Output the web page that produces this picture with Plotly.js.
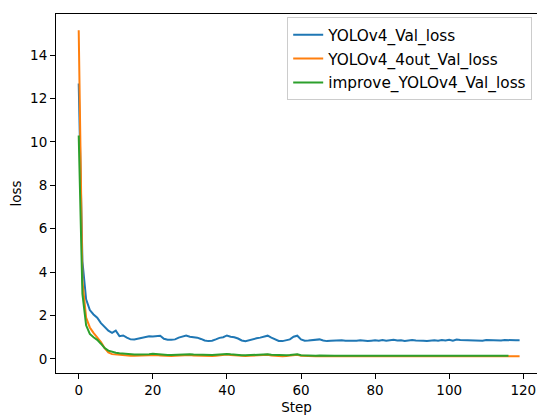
<!DOCTYPE html>
<html>
<head>
<meta charset="utf-8">
<script src="https://cdn.plot.ly/plotly-3.0.1.min.js"></script>
<style>html,body{margin:0;padding:0;background:#fff;}#chart{width:537px;height:415px;}</style>
</head>
<body>
<div id="chart"></div>
<script>
const seriesNames = ["YOLOv4_Val_loss", "YOLOv4_4out_Val_loss", "improve_YOLOv4_Val_loss"];

const yolov4Val = [
  12.7, 4.5, 2.75, 2.25, 2.05, 1.9, 1.65, 1.45, 1.3, 1.2,
  1.3, 1.05, 1.08, 0.98, 0.9, 0.89, 0.93, 0.99, 1.02, 1.04,
  1.03, 1.05, 1.07, 0.93, 0.88, 0.88, 0.9, 0.98, 1.04, 1.08,
  1.02, 1.0, 0.98, 0.92, 0.85, 0.82, 0.84, 0.9, 0.97, 1.0,
  1.08, 1.02, 1.0, 0.94, 0.85, 0.82, 0.87, 0.91, 0.95, 0.98,
  1.02, 1.07, 0.98, 0.9, 0.83, 0.82, 0.85, 0.9, 1.02, 1.07,
  0.9, 0.84, 0.85, 0.86, 0.88, 0.9, 0.85, 0.82, 0.84, 0.85,
  0.83, 0.86, 0.84, 0.83, 0.85, 0.84, 0.86, 0.83, 0.82, 0.84,
  0.86, 0.84, 0.87, 0.84, 0.85, 0.88, 0.85, 0.86, 0.83, 0.86,
  0.87, 0.85, 0.86, 0.84, 0.82, 0.85, 0.86, 0.84, 0.87, 0.85,
  0.88, 0.84, 0.89, 0.87, 0.86, 0.85, 0.87, 0.86, 0.85, 0.84,
  0.87, 0.86, 0.87, 0.86, 0.85, 0.87, 0.86, 0.84, 0.86, 0.86
];

const yolov4_4outVal = [
  15.15, 3.6, 1.9, 1.45, 1.2, 1.0, 0.78, 0.5, 0.3, 0.22,
  0.2, 0.18, 0.16, 0.15, 0.15, 0.14, 0.15, 0.16, 0.17, 0.18,
  0.2, 0.18, 0.16, 0.14, 0.13, 0.13, 0.14, 0.15, 0.17, 0.19,
  0.18, 0.16, 0.15, 0.14, 0.13, 0.12, 0.13, 0.15, 0.17, 0.18,
  0.2, 0.18, 0.16, 0.14, 0.13, 0.13, 0.14, 0.15, 0.16, 0.18,
  0.2, 0.19, 0.16, 0.14, 0.12, 0.12, 0.13, 0.14, 0.17, 0.19,
  0.14, 0.13, 0.13, 0.12, 0.12, 0.13, 0.12, 0.12, 0.12, 0.13,
  0.12, 0.12, 0.12, 0.12, 0.13, 0.12, 0.12, 0.12, 0.12, 0.12,
  0.13, 0.12, 0.12, 0.12, 0.12, 0.12, 0.12, 0.12, 0.12, 0.12,
  0.12, 0.12, 0.12, 0.12, 0.12, 0.12, 0.12, 0.12, 0.12, 0.12,
  0.12, 0.12, 0.12, 0.12, 0.12, 0.12, 0.12, 0.12, 0.12, 0.12,
  0.12, 0.12, 0.12, 0.12, 0.12, 0.12, 0.12, 0.12, 0.12, 0.12
];

const improveVal = [
  10.3, 3.0, 1.55, 1.15, 1.0, 0.88, 0.7, 0.5, 0.38, 0.32,
  0.28, 0.26, 0.24, 0.22, 0.21, 0.2, 0.2, 0.2, 0.21, 0.22,
  0.24, 0.22, 0.2, 0.19, 0.18, 0.18, 0.19, 0.2, 0.21, 0.22,
  0.21, 0.2, 0.19, 0.18, 0.17, 0.17, 0.18, 0.19, 0.21, 0.22,
  0.23, 0.21, 0.19, 0.18, 0.17, 0.17, 0.18, 0.19, 0.2, 0.22,
  0.23, 0.21, 0.19, 0.18, 0.17, 0.17, 0.17, 0.18, 0.2, 0.21,
  0.17, 0.16, 0.16, 0.15, 0.15, 0.16, 0.15, 0.15, 0.15, 0.15,
  0.15, 0.15, 0.15, 0.15, 0.15, 0.15, 0.15, 0.15, 0.15, 0.15,
  0.15, 0.15, 0.15, 0.15, 0.15, 0.15, 0.15, 0.15, 0.15, 0.15,
  0.15, 0.15, 0.15, 0.15, 0.15, 0.15, 0.15, 0.15, 0.15, 0.15,
  0.15, 0.15, 0.15, 0.15, 0.15, 0.15, 0.15, 0.15, 0.15, 0.15,
  0.15, 0.15, 0.15, 0.15, 0.15, 0.15, 0.15
];

const xTicks = [0, 20, 40, 60, 80, 100, 120];
const yTicks = [0, 2, 4, 6, 8, 10, 12, 14];

const steps = n => Array.from({length: n}, (_, i) => i);
const colors = ["#1f77b4", "#ff7f0e", "#2ca02c"];
const allSeries = [yolov4Val, yolov4_4outVal, improveVal];

const traces = allSeries.map((vals, k) => ({
  type: "scatter",
  mode: "lines",
  x: steps(vals.length),
  y: vals,
  name: seriesNames[k],
  legendgroup: "g" + k,
  line: {color: colors[k], width: 2},
  hoverinfo: "skip"
}));

const font = {family: "DejaVu Sans", size: 13.5, color: "#000"};
const legendFont = {family: "DejaVu Sans", size: 15.3, color: "#000"};

const layout = {
  width: 537,
  height: 415,
  margin: {l: 56, r: 0, t: 14, b: 42, pad: 0},
  paper_bgcolor: "#fff",
  plot_bgcolor: "#fff",
  font: font,
  showlegend: true,
  legend: {
    x: 0.99, xanchor: "right",
    y: 0.991, yanchor: "top",
    bgcolor: "rgba(255,255,255,0.8)",
    bordercolor: "#cccccc",
    borderwidth: 1,
    font: legendFont,
    tracegroupgap: 1
  },
  xaxis: {
    range: [-6.13, 123.7],
    tickvals: xTicks,
    ticktext: xTicks.map(String),
    showgrid: false,
    zeroline: false,
    showline: true,
    mirror: true,
    linecolor: "#000",
    linewidth: 1,
    ticks: "outside",
    ticklen: 5,
    tickwidth: 1,
    tickcolor: "#000",
    tickfont: font,
    automargin: false,
    title: {text: "Step", font: font, standoff: 5}
  },
  yaxis: {
    range: [-0.65, 15.9],
    tickvals: yTicks,
    ticktext: yTicks.map(String),
    showgrid: false,
    zeroline: false,
    showline: true,
    mirror: false,
    linecolor: "#000",
    linewidth: 1,
    ticks: "outside",
    ticklen: 5,
    tickwidth: 1,
    tickcolor: "#000",
    tickfont: font,
    automargin: false,
    title: {text: "loss", font: font, standoff: 5}
  }
};

Plotly.newPlot("chart", traces, layout, {displayModeBar: false, staticPlot: true});
</script>
</body>
</html>
